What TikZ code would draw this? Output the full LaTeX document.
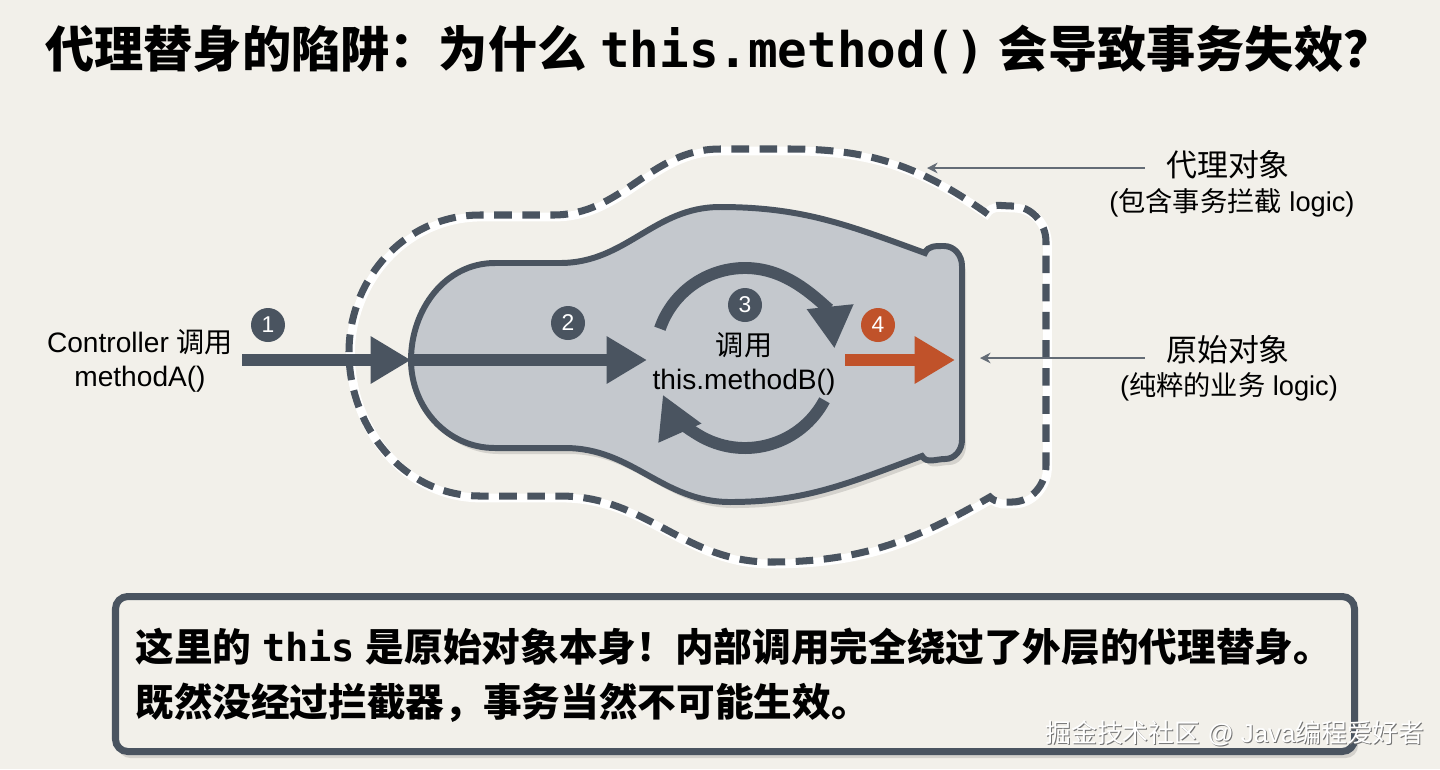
\documentclass[tikz,border=0pt]{standalone}
\usepackage{fontspec}
\setmainfont{Liberation Sans}
\newfontfamily\zh{Noto Sans CJK SC}
\newfontfamily\mono{DejaVu Sans Mono}
\usetikzlibrary{arrows.meta,positioning}
\definecolor{paper}{RGB}{242,240,234}
\definecolor{slate}{RGB}{74,84,96}
\definecolor{shell}{RGB}{196,200,205}
\definecolor{rust}{RGB}{192,82,42}
\definecolor{leadgray}{RGB}{100,108,118}
\tikzstyle{badge} = [circle, fill=slate, text=white, minimum size=0.68cm, inner sep=0pt, font=\fontsize{13pt}{13pt}\selectfont]
\tikzstyle{fatarrow} = [line width=6.8pt, slate, -{Triangle[length=23pt,width=25.5pt]}]
\tikzstyle{looparrow} = [line width=6.8pt, slate, -{Triangle[length=24pt,width=25pt]}]
\tikzstyle{leader} = [line width=1.1pt, leadgray, -{Stealth[length=6pt,width=6pt]}]
\tikzstyle{sidetext} = [font=\fontsize{16pt}{19pt}\selectfont, align=center]
\tikzstyle{headtext} = [font=\zh\fontsize{17.6pt}{20pt}\selectfont, inner xsep=12pt]
\tikzstyle{subtext} = [font=\fontsize{15.5pt}{18pt}\selectfont]
\tikzstyle{notetext} = [font=\bfseries\fontsize{22pt}{26pt}\selectfont, anchor=west, inner sep=0pt]
\newcommand{\innerblob}{(411,-360) to[out=90,in=180] (495,-263) -- (560,-263)
  to[out=0,in=180] (720,-207) to[out=0,in=160] (925,-253)
  to[out=70,in=180] (944,-246) to[out=0,in=90] (962,-266) -- (962,-440)
  to[out=-90,in=0] (945,-459) to[out=180,in=-60] (922,-456)
  to[out=200,in=0] (730,-502) to[out=180,in=0] (565,-448) -- (495,-448)
  to[out=180,in=-90] (411,-360) -- cycle}
\newcommand{\outerblob}{(349,-352) to[out=90,in=180] (480,-215) -- (553,-215)
  to[out=0,in=180] (720,-149) -- (790,-149) to[out=0,in=145] (985,-212)
  to[out=60,in=180] (1012,-206) to[out=0,in=90] (1046,-242) -- (1046,-465)
  to[out=-90,in=0] (1012,-502) to[out=180,in=-45] (990,-497)
  to[out=210,in=0] (770,-562) to[out=180,in=0] (560,-496) -- (480,-496)
  to[out=180,in=-90] (349,-352) -- cycle}

\begin{document}
\begin{tikzpicture}[x=0.02cm, y=0.02cm]
    \fill[paper] (0,0) rectangle (1440,-769);
    \useasboundingbox (0,0) rectangle (1440,-769);

    % title
    \node (title) [anchor=west, inner sep=0pt, font=\bfseries\fontsize{28pt}{33pt}\selectfont] at (45,-50)
        {{\zh 代理替身的陷阱：为什么} {\mono this.method()} {\zh 会导致事务失效？}};

    % proxy shell and real object
    \draw[white, line width=5pt, shift={(1.5,-2)}] \outerblob;
    \draw[slate, line width=4pt, dash pattern=on 10pt off 6pt] \outerblob;
    \fill[black, opacity=.12, shift={(4,-6)}] \innerblob;
    \draw[slate, line width=3.4pt, fill=shell] \innerblob;

    \coordinate (callin) at (242,-360);
    \coordinate (objw) at (411,-360);
    \coordinate (selfin) at (647,-360);
    \coordinate (outgo) at (845,-360);
    \coordinate (obje) at (955,-360);
    \coordinate (loopc) at (745,-358);
    \coordinate (proxytip) at (927,-168);
    \coordinate (origtip) at (980,-358);

    \node (caller) [sidetext] at (140,-361) {Controller {\zh 调用}\\methodA()};
    \node (inner) [sidetext] at (744,-364) {{\zh 调用}\\this.methodB()};

    \draw[fatarrow] (callin) -- (objw);
    \draw[fatarrow] (objw) -- (selfin);
    \draw[fatarrow, rust] (outgo) -- (obje);
    \draw[looparrow] (loopc) ++(161:90) arc[start angle=161, end angle=6, radius=90];
    \draw[looparrow] (loopc) ++(-28:90) arc[start angle=-28, end angle=-156, radius=90];

    \node (b1) [badge] at (268,-325) {1};
    \node (b2) [badge] at (568,-323) {2};
    \node (b3) [badge] at (745,-305) {3};
    \node (b4) [badge, fill=rust] at (878,-325) {4};

    % side labels
    \node (proxy) [headtext] at (1228,-165) {代理对象};
    \node (proxynote) [subtext] at (1232,-203) {({\zh 包含事务拦截} logic)};
    \node (orig) [headtext] at (1228,-350) {原始对象};
    \node (orignote) [subtext] at (1229,-387) {({\zh 纯粹的业务} logic)};
    \draw[leader] (proxy.west |- proxytip) -- (proxytip);
    \draw[leader] (orig.west |- origtip) -- (origtip);

    % explanation box
    \fill[black, opacity=.12, rounded corners=7pt] (118,-603) rectangle (1358,-758);
    \draw[slate, line width=4pt, fill=paper, rounded corners=7pt] (115.5,-596.5) rectangle (1354.5,-751.5);
    \node (line1) [notetext] at (135,-647) {{\zh 这里的} {\mono this} {\zh 是原始对象本身！内部调用完全绕过了外层的代理替身。}};
    \node (line2) [notetext] at (135,-703) {\zh 既然没经过拦截器，事务当然不可能生效。};

    \node (wmshade) [font=\fontsize{14.7pt}{17pt}\selectfont, text=black!55] at (1236,-734) {{\zh 掘金技术社区} @ Java{\zh 编程爱好者}};
    \node (wm) [font=\fontsize{14.7pt}{17pt}\selectfont, text=white] at (1235,-733) {{\zh 掘金技术社区} @ Java{\zh 编程爱好者}};
\end{tikzpicture}
\end{document}
